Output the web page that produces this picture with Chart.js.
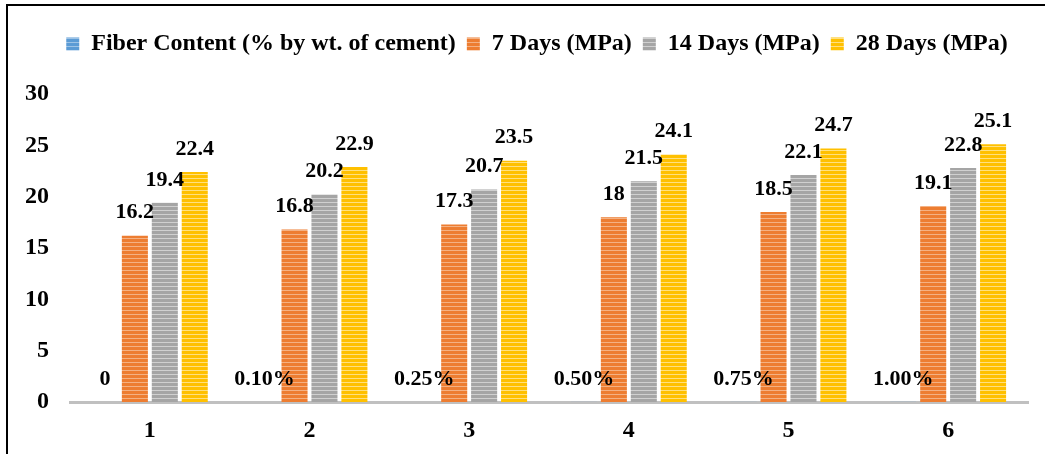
<!DOCTYPE html>
<html>
<head>
<meta charset="utf-8">
<script src="https://cdn.jsdelivr.net/npm/chart.js@4/dist/chart.umd.min.js"></script>
<style>
  body { margin: 0; background: #fff; }
  #wrap { position: relative; width: 1047px; height: 454px; overflow: hidden; }
  #frame {
    position: absolute; left: 6px; top: 4px; width: 1037px; height: 470px;
    border-left: 2px solid #000; border-top: 2px solid #000;
  }
  #chart { position: absolute; left: 0; top: 0; }
</style>
</head>
<body>
<div id="wrap">
  <div id="frame"></div>
  <canvas id="chart" width="1047" height="454"></canvas>
</div>
<script>
const categories = ["1", "2", "3", "4", "5", "6"];
const fiberContent = [0, 0.001, 0.0025, 0.005, 0.0075, 0.01];
const days7 = [16.2, 16.8, 17.3, 18, 18.5, 19.1];
const days14 = [19.4, 20.2, 20.7, 21.5, 22.1, 22.8];
const days28 = [22.4, 22.9, 23.5, 24.1, 24.7, 25.1];
const yTicks = [0, 5, 10, 15, 20, 25, 30];

const FONT = "'Liberation Serif', 'Times New Roman', serif";

// horizontal striped fill like the office "narrow horizontal" pattern
function stripes(base, light) {
  const c = document.createElement("canvas");
  c.width = 4;
  c.height = 4;
  const g = c.getContext("2d");
  g.fillStyle = base;
  g.fillRect(0, 0, 4, 4);
  g.fillStyle = light;
  g.fillRect(0, 2, 4, 1);
  return g.createPattern(c, "repeat");
}

const fills = {
  fiber: stripes("#5b9bd5", "#9dc3e6"),
  d7: stripes("#ed7d31", "#f4b183"),
  d14: stripes("#a5a5a5", "#d0d0d0"),
  d28: stripes("#ffc000", "#ffe080"),
};

function fmtFiber(v) {
  return v === 0 ? "0" : (v * 100).toFixed(2) + "%";
}

// value labels above every bar
const barLabels = {
  id: "barLabels",
  afterDatasetsDraw(chart) {
    const ctx = chart.ctx;
    ctx.save();
    ctx.font = "bold 22px " + FONT;
    ctx.fillStyle = "#000";
    ctx.textAlign = "center";
    ctx.textBaseline = "middle";
    chart.data.datasets.forEach((ds, i) => {
      chart.getDatasetMeta(i).data.forEach((bar, j) => {
        const v = ds.data[j];
        const txt = i === 0 ? fmtFiber(v) : String(v);
        ctx.fillText(txt, bar.x, bar.y - 23);
      });
    });
    ctx.restore();
  },
};

// extra space under the legend, and centre it a bit further right
const legendTweak = {
  id: "legendTweak",
  beforeInit(chart) {
    const fit = chart.legend.fit;
    chart.legend.fit = function () {
      fit.bind(chart.legend)();
      this.height += 28;
    };
  },
  afterLayout(chart) {
    chart.legend.left = 46;
    chart.legend.right = 1028;
  },
};

new Chart(document.getElementById("chart").getContext("2d"), {
  type: "bar",
  data: {
    labels: categories,
    datasets: [
      { label: "Fiber Content (% by wt. of cement)", data: fiberContent, backgroundColor: fills.fiber },
      { label: "7 Days (MPa)", data: days7, backgroundColor: fills.d7 },
      { label: "14 Days (MPa)", data: days14, backgroundColor: fills.d14 },
      { label: "28 Days (MPa)", data: days28, backgroundColor: fills.d28 },
    ],
  },
  options: {
    responsive: false,
    animation: false,
    categoryPercentage: 0.75,
    barPercentage: 0.87,
    layout: { padding: { top: 21, left: 0, right: 19, bottom: 0 } },
    plugins: {
      legend: {
        position: "top",
        labels: {
          boxWidth: 13,
          boxHeight: 13,
          padding: 11,
          color: "#000",
          font: { family: FONT, size: 24, weight: "bold" },
        },
      },
      tooltip: { enabled: false },
    },
    scales: {
      x: {
        afterFit(scale) { scale.height = 52; },
        grid: { display: false, drawTicks: false },
        border: { color: "#c0c0c0", width: 3 },
        ticks: {
          color: "#000",
          padding: 14,
          font: { family: FONT, size: 24, weight: "bold" },
        },
      },
      y: {
        min: 0,
        max: 30,
        afterFit(scale) { scale.width = 70; },
        afterBuildTicks(scale) { scale.ticks = yTicks.map((v) => ({ value: v })); },
        grid: { display: false, drawTicks: false },
        border: { display: false },
        ticks: {
          color: "#000",
          padding: 21,
          font: { family: FONT, size: 24, weight: "bold" },
        },
      },
    },
  },
  plugins: [barLabels, legendTweak],
});
</script>
</body>
</html>
